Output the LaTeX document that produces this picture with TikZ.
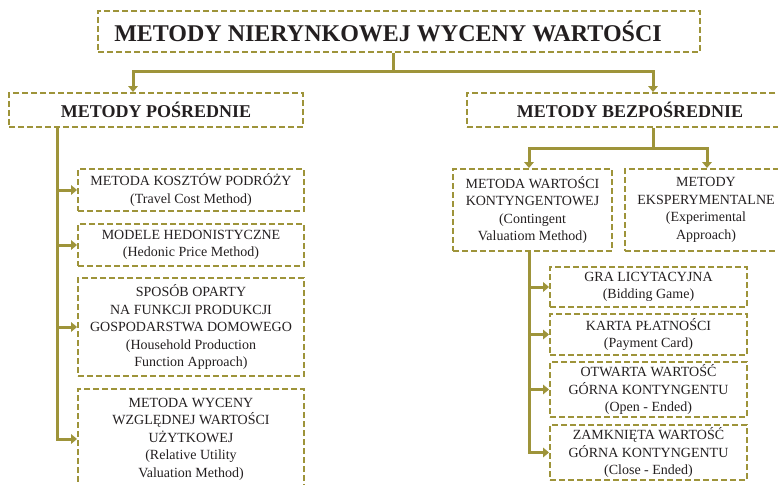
\documentclass[tikz,border=0pt]{standalone}
\usepackage{fontspec}
\setmainfont{Liberation Serif}
\usetikzlibrary{positioning,arrows.meta}
\definecolor{olivebar}{RGB}{158,148,58}
\definecolor{inktext}{RGB}{35,31,32}

\begin{document}
\begin{tikzpicture}[x=1pt,y=-1pt,
    box/.style={draw=olivebar,dash pattern=on 6pt off 3pt,line width=1.9pt,
      inner sep=0pt,align=center,text=inktext,
      font=\fontsize{14}{17.5}\selectfont},
    headbox/.style={box,font=\bfseries\fontsize{18}{22}\selectfont},
    link/.style={draw=olivebar,line width=3pt},
    arrow/.style={link,-{Triangle[length=6pt,width=9.5pt]}}]
  \useasboundingbox (0,0) rectangle (778,484);
  \clip (0,0) rectangle (778,484);

  % headings
  \node[headbox,minimum width=602pt,minimum height=41pt,
    font=\bfseries\fontsize{24}{28}\selectfont] (title) at (399,31.5)
    {METODY NIERYNKOWEJ WYCENY WARTOŚCI\hspace*{22pt}};
  \node[headbox,minimum width=294pt,minimum height=34pt] (posr) at (156,110)
    {METODY POŚREDNIE};
  \node[headbox,minimum width=326pt,minimum height=34pt] (bezp) at (630,110)
    {METODY BEZPOŚREDNIE};

  % metody posrednie
  \node[box,minimum width=226pt,minimum height=42pt] (m1) at (191,190)
    {METODA KOSZTÓW PODRÓŻY\\(Travel Cost Method)};
  \node[box,minimum width=226pt,minimum height=42pt] (m2) at (191,245)
    {MODELE HEDONISTYCZNE\\(Hedonic Price Method)};
  \node[box,minimum width=226pt,minimum height=98pt] (m3) at (191,327)
    {SPOSÓB OPARTY\\NA FUNKCJI PRODUKCJI\\GOSPODARSTWA DOMOWEGO\\(Household Production\\Function Approach)};
  \node[box,minimum width=226pt,minimum height=100pt] (m4) at (191,439)
    {METODA WYCENY\\WZGLĘDNEJ WARTOŚCI\\UŻYTKOWEJ\\(Relative Utility\\Valuation Method)};

  % metody bezposrednie
  \node[box,minimum width=159pt,minimum height=82pt] (cv) at (532.5,210)
    {METODA WARTOŚCI\\KONTYNGENTOWEJ\\(Contingent\\Valuatiom Method)};
  \node[box,minimum width=162pt,minimum height=82pt] (exp) at (706,210)
    {METODY\\EKSPERYMENTALNE\\(Experimental\\Approach)};
  \node[box,minimum width=197pt,minimum height=40pt] (k1) at (648.5,287)
    {GRA LICYTACYJNA\\(Bidding Game)};
  \node[box,minimum width=197pt,minimum height=41pt] (k2) at (648.5,334.5)
    {KARTA PŁATNOŚCI\\(Payment Card)};
  \node[box,minimum width=197pt,minimum height=55pt] (k3) at (648.5,389.5)
    {OTWARTA WARTOŚĆ\\GÓRNA KONTYNGENTU\\(Open - Ended)};
  \node[box,minimum width=197pt,minimum height=55pt] (k4) at (648.5,452.5)
    {ZAMKNIĘTA WARTOŚĆ\\GÓRNA KONTYNGENTU\\(Close - Ended)};

  % connectors
  \coordinate (topj) at (393,72);
  \coordinate (bezpj) at (653,148);
  \coordinate (ltrunk) at ([xshift=-99pt]posr.south);
  \coordinate (rtrunk) at ([xshift=-3.5pt]cv.south);
  \draw[link] (title.south -| topj) -- (topj);
  \draw[arrow] (topj) -| ([xshift=-23pt]posr.north);
  \draw[arrow] (topj) -| ([xshift=23pt]bezp.north);
  \draw[link] (bezp.south -| bezpj) -- (bezpj);
  \draw[arrow] (bezpj) -| ([xshift=-3.5pt]cv.north);
  \draw[arrow] (bezpj) -| ([xshift=1pt]exp.north);
  \draw[arrow] (ltrunk) |- (m4.west);
  \foreach \b in {m1,m2,m3}
    \draw[arrow] (ltrunk |- \b.west) -- (\b.west);
  \draw[arrow] (rtrunk) |- (k4.west);
  \foreach \b in {k1,k2,k3}
    \draw[arrow] (rtrunk |- \b.west) -- (\b.west);
\end{tikzpicture}
\end{document}
